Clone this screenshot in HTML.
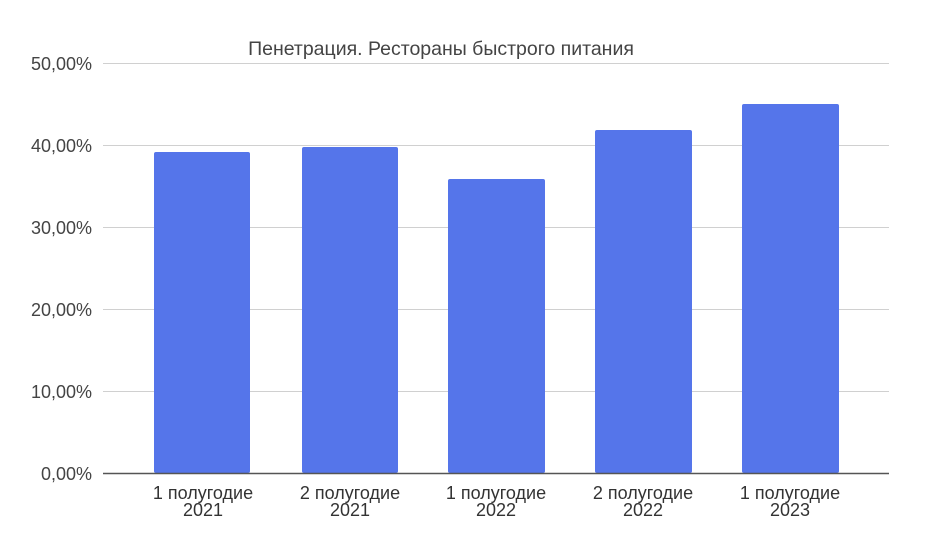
<!DOCTYPE html>
<html><head><meta charset="utf-8"><style>body{margin:0;background:#fff}</style></head><body>
<svg width="944" height="552" xmlns="http://www.w3.org/2000/svg" font-family="Liberation Sans, Arial, sans-serif">
<rect width="944" height="552" fill="#fff"/>
<text x="441" y="55" font-size="19.5" fill="#444" text-anchor="middle">Пенетрация. Рестораны быстрого питания</text>
<g stroke="#d0d0d0" stroke-width="1">
<line x1="103" x2="889" y1="63.5" y2="63.5"/>
<line x1="103" x2="889" y1="145.5" y2="145.5"/>
<line x1="103" x2="889" y1="227.5" y2="227.5"/>
<line x1="103" x2="889" y1="309.5" y2="309.5"/>
<line x1="103" x2="889" y1="391.5" y2="391.5"/>
</g>
<g font-size="18" fill="#444" text-anchor="end">
<text x="92" y="70">50,00%</text>
<text x="92" y="152">40,00%</text>
<text x="92" y="234">30,00%</text>
<text x="92" y="316">20,00%</text>
<text x="92" y="398">10,00%</text>
<text x="92" y="480">0,00%</text>
</g>
<g fill="#5575ea">
<rect x="154" y="152" width="96" height="321" rx="2"/>
<rect x="302" y="147" width="96" height="326" rx="2"/>
<rect x="448" y="179" width="97" height="294" rx="2"/>
<rect x="595" y="130" width="97" height="343" rx="2"/>
<rect x="742" y="104" width="97" height="369" rx="2"/>
</g>
<line x1="103" x2="889" y1="473.5" y2="473.5" stroke="#555" stroke-width="1.5"/>
<g font-size="18" fill="#333" text-anchor="middle">
<text x="203" y="499">1 полугодие</text><text x="203" y="516">2021</text>
<text x="350" y="499">2 полугодие</text><text x="350" y="516">2021</text>
<text x="496" y="499">1 полугодие</text><text x="496" y="516">2022</text>
<text x="643" y="499">2 полугодие</text><text x="643" y="516">2022</text>
<text x="790" y="499">1 полугодие</text><text x="790" y="516">2023</text>
</g>
</svg>
</body></html>
